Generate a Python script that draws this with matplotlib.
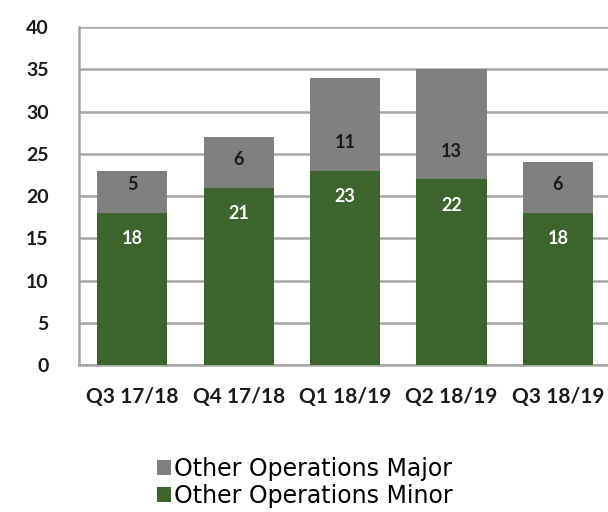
import matplotlib
matplotlib.use('Agg')
import matplotlib.pyplot as plt
import numpy as np

plt.rcParams['font.family'] = ['Lato', 'DejaVu Sans']

quarters = ['Q3 17/18', 'Q4 17/18', 'Q1 18/19', 'Q2 18/19', 'Q3 18/19']
ops_minor = [18, 21, 23, 22, 18]
ops_major = [5, 6, 11, 13, 6]

green = '#3e642e'
grey = '#808080'
grid_col = '#a6a6a6'

fig = plt.figure(figsize=(6.08, 5.12), dpi=100)
ax = fig.add_axes([0.130, 0.287, 0.875, 0.660])

x = np.arange(len(quarters))
w = 0.66
b1 = ax.bar(x, ops_minor, w, color=green, label='Other Operations Minor', zorder=3)
b2 = ax.bar(x, ops_major, w, bottom=ops_minor, color=grey, label='Other Operations Major', zorder=3)

# labels: minor just under top of green, major just above base of grey
for i in range(len(quarters)):
    ax.annotate(str(ops_minor[i]), (x[i], ops_minor[i]), xytext=(0, -26),
                textcoords='offset pixels', ha='center', va='center',
                color='white', fontsize=13, fontweight='bold', zorder=4)
    ax.annotate(str(ops_major[i]), (x[i], ops_minor[i]), xytext=(0, 28),
                textcoords='offset pixels', ha='center', va='center',
                color='#1a1a1a', fontsize=13, fontweight='bold', zorder=4)

ax.set_xlim(-0.5, 4.5)
ax.set_ylim(0, 40)
ax.set_yticks(range(0, 41, 5))
ax.set_xticks(x)
ax.set_xticklabels(quarters)
ax.yaxis.grid(True, color=grid_col, linewidth=1.8, zorder=0)
ax.set_axisbelow(True)
for s in ['top', 'right']:
    ax.spines[s].set_visible(False)
ax.spines['left'].set_color(grid_col)
ax.spines['left'].set_linewidth(1.8)
ax.spines['bottom'].set_color(grid_col)
ax.spines['bottom'].set_linewidth(1.8)
ax.tick_params(axis='y', length=0, labelsize=14, colors='#1a1a1a', pad=22)
ax.tick_params(axis='x', length=0, labelsize=15, colors='#1a1a1a', pad=16)
for lab in ax.get_xticklabels() + ax.get_yticklabels():
    lab.set_fontweight('bold')

fig.legend(handles=[b2, b1], loc='upper left', bbox_to_anchor=(0.238, 0.13),
           frameon=False, prop={'family': 'DejaVu Sans', 'size': 17},
           handlelength=0.6, handleheight=0.6,
           handletextpad=0.15, labelspacing=0.1, borderpad=0)

fig.savefig('out.png', dpi=100)
